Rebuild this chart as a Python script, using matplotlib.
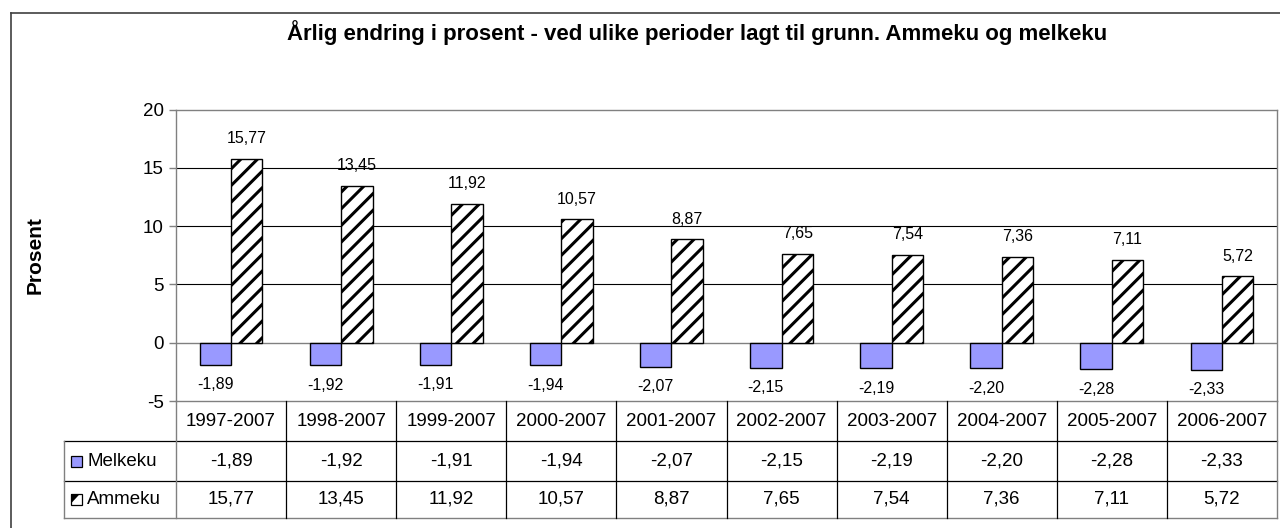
import matplotlib
matplotlib.use('Agg')
import numpy as np
import matplotlib.pyplot as plt
from matplotlib.patches import Rectangle, Polygon
from matplotlib.lines import Line2D

plt.rcParams['font.family'] = ['Liberation Sans', 'DejaVu Sans']
plt.rcParams['hatch.linewidth'] = 2.2

# Data
categories = ['1997-2007', '1998-2007', '1999-2007', '2000-2007', '2001-2007',
              '2002-2007', '2003-2007', '2004-2007', '2005-2007', '2006-2007']
melkeku = [-1.89, -1.92, -1.91, -1.94, -2.07, -2.15, -2.19, -2.20, -2.28, -2.33]
ammeku = [15.77, 13.45, 11.92, 10.57, 8.87, 7.65, 7.54, 7.36, 7.11, 5.72]
series_names = ['Melkeku', 'Ammeku']

title = 'Årlig endring i prosent - ved ulike perioder lagt til grunn. Ammeku og melkeku'

MELK_COLOR = '#9999FF'
GRID_GREY = '#808080'

W, H = 1280, 528


def fmt(v):
    return f'{v:.2f}'.replace('.', ',')


def fx(px):
    return px / W


def fy(py):
    return 1 - py / H


fig = plt.figure(figsize=(12.8, 5.28), dpi=100)

# outer chart frame (runs off the right/bottom edge like the original)
fig.add_artist(Line2D([fx(11), fx(11)], [fy(13), fy(540)], color='#404040', lw=1.2))
fig.add_artist(Line2D([fx(11), fx(1290)], [fy(13), fy(13)], color='#404040', lw=1.2))

# ---------------- main chart ----------------
left_px, right_px, top_px, bot_px = 176, 1277, 109.5, 401
ax = fig.add_axes([fx(left_px), fy(bot_px), fx(right_px - left_px), (bot_px - top_px) / H])

x = np.arange(len(categories))
w = 0.285
ax.bar(x - w / 2, melkeku, w, color=MELK_COLOR, edgecolor='black', linewidth=1.0, zorder=3)
ax.bar(x + w / 2, ammeku, w, color='white', edgecolor='black', hatch='//', linewidth=1.0, zorder=3)

for xi, v in zip(x, ammeku):
    ax.annotate(fmt(v), (xi + w / 2, v), xytext=(0, 9), textcoords='offset points',
                ha='center', va='bottom', fontsize=11.5)
for xi, v in zip(x, melkeku):
    ax.annotate(fmt(v), (xi - w / 2, v), xytext=(0, -9), textcoords='offset points',
                ha='center', va='top', fontsize=11.5)

ax.set_xlim(-0.5, len(categories) - 0.5)
ax.set_ylim(-5, 20)
ax.set_yticks([-5, 0, 5, 10, 15, 20])
ax.set_yticklabels(['-5', '0', '5', '10', '15', '20'])
ax.set_xticks([])
for yv in [5, 10, 15]:
    ax.axhline(yv, color='black', lw=0.8, zorder=1)
ax.axhline(0, color=GRID_GREY, lw=1.0, zorder=2)
for s in ax.spines.values():
    s.set_color(GRID_GREY)
    s.set_linewidth(1.0)
ax.tick_params(axis='y', direction='out', length=5, width=1.0, color=GRID_GREY,
               labelsize=13.5, pad=4)
ax.set_ylabel('Prosent', fontsize=15, fontweight='bold', labelpad=0)
ax.yaxis.set_label_coords(fx(45 - left_px) / fx(right_px - left_px), 0.5)

fig.text(fx(697), fy(33), title, ha='center', va='center', fontsize=16, fontweight='bold')

# ---------------- data table ----------------
tab_left_px = 64
col_px = (right_px - left_px) / len(categories)
tab = fig.add_axes([fx(tab_left_px), fy(518), fx(right_px - tab_left_px), (518 - bot_px) / H])
x0 = -0.5 - (left_px - tab_left_px) / col_px
tab.set_xlim(x0, len(categories) - 0.5)
rows = [401, 441, 481, 518]
tab.set_ylim(rows[-1], rows[0])
tab.axis('off')

xr = len(categories) - 0.5
kw = dict(clip_on=False)
tab.plot([x0, xr], [rows[1], rows[1]], color='black', lw=0.9, **kw)
tab.plot([x0, xr], [rows[2], rows[2]], color='black', lw=0.9, **kw)
tab.plot([x0, xr], [rows[3], rows[3]], color=GRID_GREY, lw=1.0, **kw)
for k in range(1, len(categories)):
    tab.plot([k - 0.5, k - 0.5], [rows[0], rows[3]], color='black', lw=0.9, **kw)
tab.plot([-0.5, -0.5], [rows[0], rows[3]], color=GRID_GREY, lw=1.0, **kw)
tab.plot([xr, xr], [rows[0], rows[3]], color=GRID_GREY, lw=1.0, **kw)
tab.plot([x0, x0], [rows[1], rows[3]], color=GRID_GREY, lw=1.0, **kw)

for i, c in enumerate(categories):
    tab.text(i, (rows[0] + rows[1]) / 2, c, ha='center', va='center', fontsize=13.5)
    tab.text(i, (rows[1] + rows[2]) / 2, fmt(melkeku[i]), ha='center', va='center', fontsize=13.5)
    tab.text(i, (rows[2] + rows[3]) / 2, fmt(ammeku[i]), ha='center', va='center', fontsize=13.5)

# legend keys inside the table
key_w = 11 / col_px
key_x = x0 + 7 / col_px
for r, (name, face) in enumerate(zip(series_names, [MELK_COLOR, 'white'])):
    yc = (rows[r + 1] + rows[r + 2]) / 2
    tab.add_patch(Rectangle((key_x, yc - 5.5), key_w, 11, facecolor=face, edgecolor='black',
                            lw=0.9, clip_on=False, zorder=3))
    if name == 'Ammeku':
        # black triangle in the upper-left half, like the striped key in the original
        tab.add_patch(Polygon([(key_x, yc - 5.5), (key_x + key_w * 0.8, yc - 5.5),
                               (key_x, yc + 4)], closed=True, facecolor='black',
                              edgecolor='none', clip_on=False, zorder=4))
    tab.text(x0 + 23 / col_px, yc, name, ha='left', va='center', fontsize=13.5)

fig.savefig('out.png', dpi=100, facecolor='white')
